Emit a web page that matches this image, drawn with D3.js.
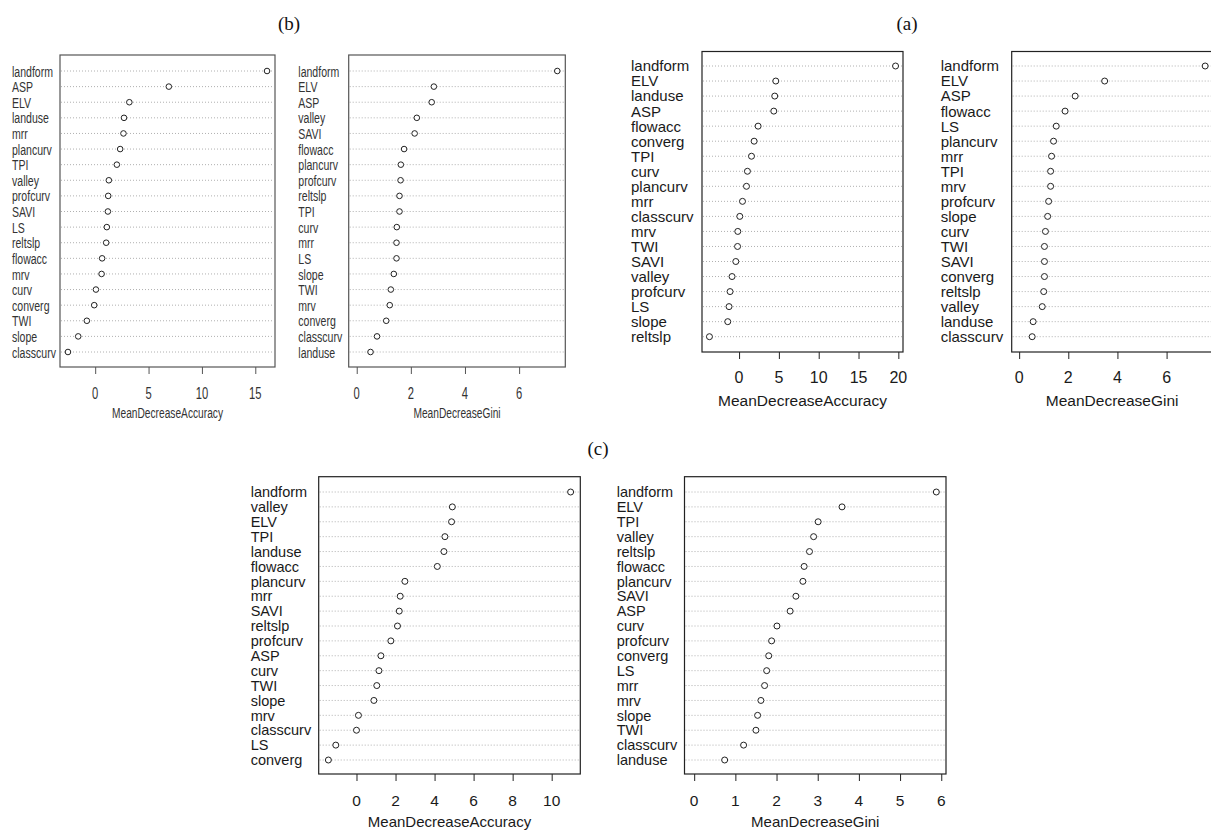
<!DOCTYPE html>
<html><head><meta charset="utf-8">
<script src="https://cdn.jsdelivr.net/npm/d3@7"></script>
<style>body{margin:0;background:#fff}svg{display:block}</style>
</head><body>
<svg id="chart" width="1211" height="830"></svg>
<script>
// ---- DATA (rows top to bottom) ----
const bAccLabels = ["landform","ASP","ELV","landuse","mrr","plancurv","TPI","valley","profcurv","SAVI","LS","reltslp","flowacc","mrv","curv","converg","TWI","slope","classcurv"];
const bAccValues = [16.1,6.9,3.2,2.7,2.65,2.34,2.03,1.28,1.22,1.19,1.09,1.03,0.65,0.6,0.07,-0.09,-0.78,-1.59,-2.55];
const bGiniLabels = ["landform","ELV","ASP","valley","SAVI","flowacc","plancurv","profcurv","reltslp","TPI","curv","mrr","LS","slope","TWI","mrv","converg","classcurv","landuse"];
const bGiniValues = [7.41,2.85,2.77,2.22,2.14,1.75,1.63,1.62,1.58,1.58,1.48,1.47,1.47,1.37,1.26,1.22,1.09,0.75,0.51];
const aAccLabels = ["landform","ELV","landuse","ASP","flowacc","converg","TPI","curv","plancurv","mrr","classcurv","mrv","TWI","SAVI","valley","profcurv","LS","slope","reltslp"];
const aAccValues = [19.65,4.61,4.48,4.36,2.39,1.89,1.56,1.05,0.93,0.43,0.09,-0.16,-0.19,-0.41,-0.88,-1.13,-1.26,-1.42,-3.72];
const aGiniLabels = ["landform","ELV","ASP","flowacc","LS","plancurv","mrr","TPI","mrv","profcurv","slope","curv","TWI","SAVI","converg","reltslp","valley","landuse","classcurv"];
const aGiniValues = [7.57,3.48,2.28,1.87,1.51,1.40,1.32,1.28,1.28,1.20,1.16,1.07,1.03,1.03,1.03,1.0,0.94,0.57,0.53];
const cAccLabels = ["landform","valley","ELV","TPI","landuse","flowacc","plancurv","mrr","SAVI","reltslp","profcurv","ASP","curv","TWI","slope","mrv","classcurv","LS","converg"];
const cAccValues = [10.97,4.91,4.87,4.53,4.48,4.14,2.48,2.24,2.19,2.10,1.76,1.25,1.15,1.04,0.89,0.10,0.0,-1.06,-1.44];
const cGiniLabels = ["landform","ELV","TPI","valley","reltslp","flowacc","plancurv","SAVI","ASP","curv","profcurv","converg","LS","mrr","mrv","slope","TWI","classcurv","landuse"];
const cGiniValues = [5.88,3.59,3.01,2.90,2.80,2.67,2.64,2.47,2.33,2.01,1.88,1.81,1.76,1.71,1.62,1.54,1.50,1.20,0.74];
const bAccTicks = [0,5,10,15];
const bGiniTicks = [0,2,4,6];
const aAccTicks = [0,5,10,15,20];
const aGiniTicks = [0,2,4,6];
const cAccTicks = [0,2,4,6,8,10];
const cGiniTicks = [0,1,2,3,4,5,6];
const accTitle = "MeanDecreaseAccuracy";
const giniTitle = "MeanDecreaseGini";
const panelTitles = ["(b)","(a)","(c)"];

// ---- LAYOUT ----
const svg = d3.select("#chart");
const FONT = "'Liberation Sans', Arial, sans-serif";

function drawPanel(p){
  const g = svg.append("g");
  const ext = d3.extent(p.values);
  const lo = p.gini ? 0 : ext[0];
  const hi = ext[1];
  const pad = (hi - lo) * 0.04;
  const x = d3.scaleLinear().domain([lo - pad, hi + pad]).range([p.left, p.right]);
  const y = d3.scalePoint().domain(p.labels).range([p.rowTop, p.rowBottom]);
  const txt = (sel, tx, ty, anchor) => sel
    .attr("transform", `translate(${tx},${ty}) scale(${p.sx},1)`)
    .attr("text-anchor", anchor)
    .attr("font-family", FONT).attr("fill", p.textColor);

  // gridlines
  g.selectAll("line.grid").data(p.labels).join("line")
    .attr("x1", p.left+1).attr("x2", p.right-1)
    .attr("y1", d => y(d)).attr("y2", d => y(d))
    .attr("stroke", "#b0b0b0").attr("stroke-width", 1).attr("stroke-dasharray", "1,2");
  // frame
  g.append("rect").attr("x", p.left).attr("y", p.top)
    .attr("width", p.right - p.left).attr("height", p.bottom - p.top)
    .attr("fill", "none").attr("stroke", p.frameColor).attr("stroke-width", 1.2);
  // points
  g.selectAll("circle").data(p.values).join("circle")
    .attr("cx", d => x(d)).attr("cy", (d,i) => y(p.labels[i]))
    .attr("r", p.r).attr("fill", "#fff").attr("stroke", "#222").attr("stroke-width", 1);
  // row labels
  g.selectAll("text.lab").data(p.labels).join("text")
    .attr("font-size", p.fs)
    .each(function(d){ txt(d3.select(this), p.labelX, y(d) + p.fs*0.36, "start"); })
    .text(d => d);
  // axis ticks
  const ax = g.append("g").attr("transform", `translate(0,${p.bottom})`)
    .call(d3.axisBottom(x).tickValues(p.ticks).tickSize(7).tickFormat(d3.format("d")));
  ax.select(".domain").remove();
  ax.selectAll(".tick line").attr("stroke", p.frameColor);
  ax.selectAll(".tick text").remove();
  g.selectAll("text.tick").data(p.ticks).join("text")
    .attr("font-size", p.tfs)
    .each(function(d){ txt(d3.select(this), x(d), p.tickY, "middle"); })
    .text(d => d3.format("d")(d));
  // x title
  txt(g.append("text"), (p.left + p.right)/2, p.titleY, "middle")
    .attr("font-size", p.xfs).text(p.gini ? giniTitle : accTitle);
}

const bStyle = {sx:0.68, fs:15.5, tfs:16.5, xfs:15, r:2.8, textColor:"#333", frameColor:"#555",
  top:55, bottom:367, rowTop:71, rowBottom:352, tickY:399, titleY:418};
const aStyle = {sx:1, fs:15, tfs:16, xfs:15.5, r:3, textColor:"#1a1a1a", frameColor:"#222",
  top:51.5, bottom:352, rowTop:66, rowBottom:336.7, tickY:382.5, titleY:405.5};
const cStyle = {sx:1, fs:14.5, tfs:15.5, xfs:15, r:3, textColor:"#1a1a1a", frameColor:"#222",
  top:476.7, bottom:774, rowTop:492, rowBottom:760, tickY:805.5, titleY:827};

drawPanel({...bStyle, labels:bAccLabels, values:bAccValues, ticks:bAccTicks, gini:false, left:60, right:275, labelX:12});
drawPanel({...bStyle, labels:bGiniLabels, values:bGiniValues, ticks:bGiniTicks, gini:true, left:348.7, right:565.3, labelX:298.3});
drawPanel({...aStyle, labels:aAccLabels, values:aAccValues, ticks:aAccTicks, gini:false, left:702, right:903, labelX:631});
drawPanel({...aStyle, labels:aGiniLabels, values:aGiniValues, ticks:aGiniTicks, gini:true, left:1011.7, right:1212.6, labelX:940.7});
drawPanel({...cStyle, labels:cAccLabels, values:cAccValues, ticks:cAccTicks, gini:false, left:318.7, right:580.3, labelX:250.7});
drawPanel({...cStyle, labels:cGiniLabels, values:cGiniValues, ticks:cGiniTicks, gini:true, left:684.5, right:946, labelX:616.7});

// panel titles
const titlePos = [[289, 30], [907, 30], [598, 455]];
svg.selectAll("text.ptitle").data(panelTitles).join("text")
  .attr("x", (d,i) => titlePos[i][0]).attr("y", (d,i) => titlePos[i][1])
  .attr("text-anchor", "middle").attr("font-family", "'Liberation Serif', 'Times New Roman', serif")
  .attr("font-size", 19).attr("fill", "#111").text(d => d);
</script>
</body></html>
